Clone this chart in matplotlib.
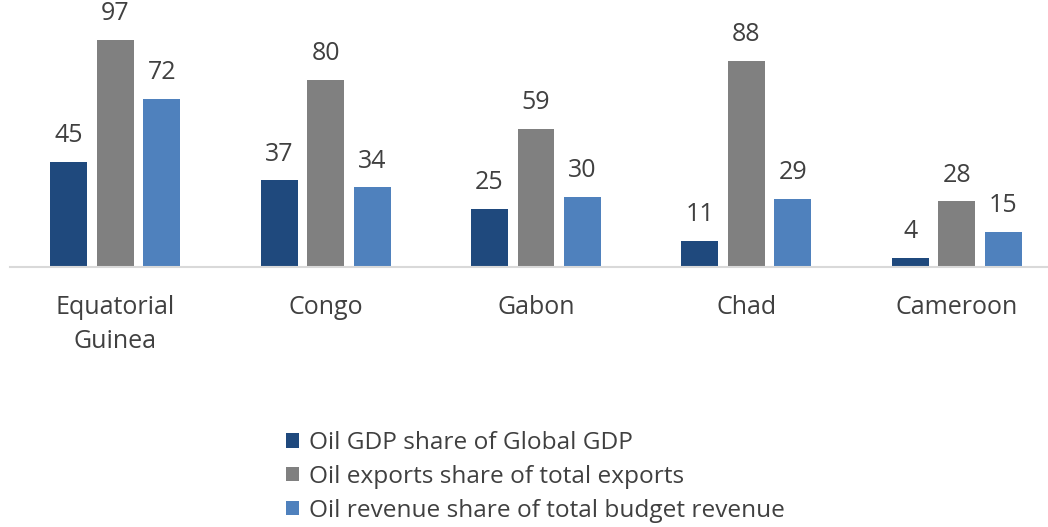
import matplotlib
matplotlib.use("Agg")
import matplotlib.pyplot as plt
import numpy as np

categories = ["Equatorial\nGuinea", "Congo", "Gabon", "Chad", "Cameroon"]
series_names = ["Oil GDP share of Global GDP",
                "Oil exports share of total exports",
                "Oil revenue share of total budget revenue"]
gdp_share = [45, 37, 25, 11, 4]
exports_share = [97, 80, 59, 88, 28]
revenue_share = [72, 34, 30, 29, 15]
colors = ["#1F497D", "#808080", "#4F81BD"]

plt.rcParams['font.family'] = ['Open Sans', 'DejaVu Sans']
W, H = 1048, 527
fig = plt.figure(figsize=(W/100, H/100), dpi=100)
# axes: x from 10px to 1062px, y baseline at 267px, top (y=100) at 33px
ax = fig.add_axes([10/W, (H-267)/H, 1052/W, 234/H])
ax.set_xlim(-0.5, 4.5)
ax.set_ylim(0, 100)

x = np.arange(len(categories))
bw = 0.175
off = 0.221
handles = []
for i, (vals, c, name) in enumerate(zip([gdp_share, exports_share, revenue_share], colors, series_names)):
    bars = ax.bar(x + (i-1)*off, vals, width=bw, color=c, label=name, zorder=2)
    handles.append(bars)
    for xi, v in zip(x + (i-1)*off, vals):
        ax.annotate(str(v), (xi, v), xytext=(0, 10), textcoords='offset points',
                    ha='center', va='bottom', fontsize=18, color='#404040',
                    annotation_clip=False)

for s in ['top', 'right', 'left']:
    ax.spines[s].set_visible(False)
ax.spines['bottom'].set_color('#D9D9D9')
ax.spines['bottom'].set_linewidth(1.5)
ax.set_yticks([])
ax.set_xticks(x)
ax.set_xticklabels(categories, fontsize=18, color='#404040', linespacing=1.5)
ax.tick_params(axis='x', length=0, pad=20)

fig.legend(handles=handles, labels=series_names, loc='upper left',
           bbox_to_anchor=(286/W, 1 - 431/H), frameon=False, fontsize=17.6,
           labelcolor='#404040', handlelength=0.55, handleheight=0.55,
           handletextpad=0.4, labelspacing=0.4, borderpad=0, borderaxespad=0)

fig.savefig("out.png", dpi=100)
